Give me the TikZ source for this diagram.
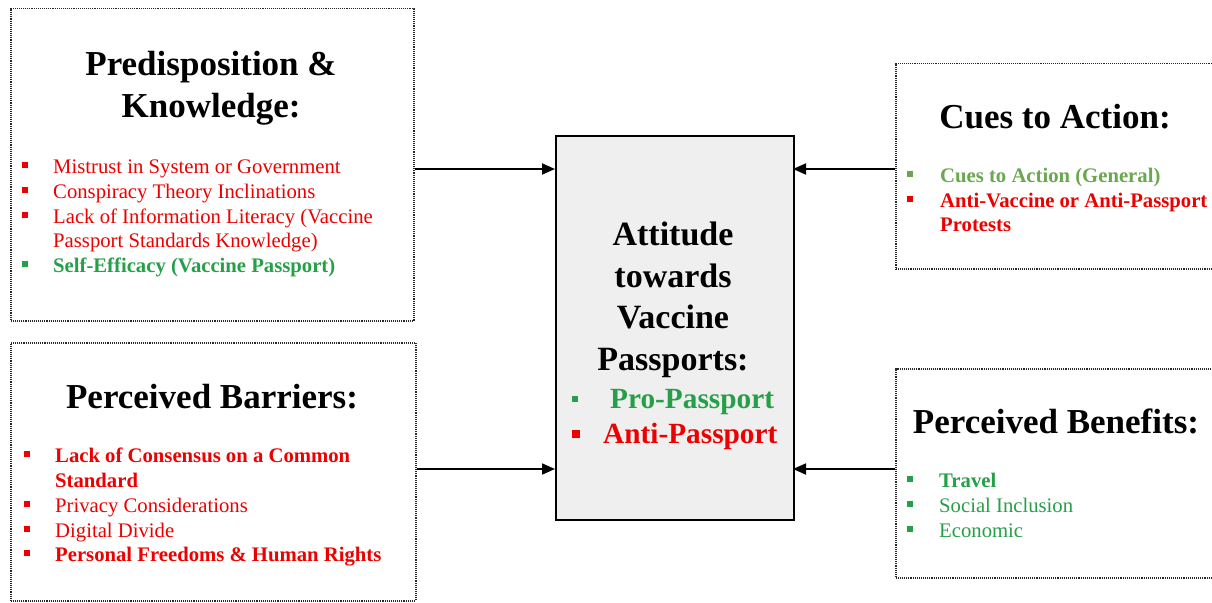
\documentclass[tikz,border=0pt]{standalone}
\usepackage{fontspec}
\setmainfont{Liberation Serif}
\usetikzlibrary{arrows.meta}
\definecolor{rd}{RGB}{236,0,0}
\definecolor{gn}{RGB}{38,160,72}
\definecolor{lgn}{RGB}{106,168,79}
\definecolor{bx}{RGB}{40,40,40}
\definecolor{cfill}{RGB}{239,239,239}
\newcommand{\bl}[2]{\llap{{\color{#1}\rule[5pt]{6pt}{6pt}}\hspace{#2}}}
\tikzset{
  dotbox/.style={draw=bx, line width=1.5pt, dash pattern=on 1.1pt off 1pt},
  centerbox/.style={draw=black, fill=cfill, line width=2pt},
  title/.style={inner sep=0pt, anchor=base, font=\fontsize{35}{40}\selectfont\bfseries},
  ctitle/.style={inner sep=0pt, anchor=base, font=\fontsize{34}{40}\selectfont\bfseries},
  item/.style={inner sep=0pt, anchor=base west, font=\fontsize{20.7}{25}\selectfont},
  bitem/.style={item, font=\fontsize{20.7}{25}\selectfont\bfseries},
  conn/.style={line width=1.8pt, -{Triangle[length=13pt,width=11pt]}}
}
\begin{document}
\begin{tikzpicture}[x=1pt,y=-1pt]
\clip (0,0) rectangle (1212,602);
\fill[white] (0,0) rectangle (1212,602);
% boxes
\node[dotbox, minimum width=403pt, minimum height=312pt, anchor=north west, inner sep=0pt] (tl) at (10,8) {};
\node[dotbox, minimum width=405pt, minimum height=258pt, anchor=north west, inner sep=0pt] (bl) at (10,342) {};
\node[centerbox, minimum width=238pt, minimum height=384pt, anchor=north west, inner sep=0pt] (c) at (555,135) {};
\node[dotbox, minimum width=340pt, minimum height=205pt, anchor=north west, inner sep=0pt] (tr) at (895,63) {};
\node[dotbox, minimum width=340pt, minimum height=209pt, anchor=north west, inner sep=0pt] (br) at (895,368) {};
% connectors
\coordinate (c1) at (555,169); \coordinate (c2) at (555,469);
\coordinate (c3) at (793,169); \coordinate (c4) at (793,469);
\draw[conn] (tl.east |- c1) -- (c1);
\draw[conn] (bl.east |- c2) -- (c2);
\draw[conn] (tr.west |- c3) -- (c3);
\draw[conn] (br.west |- c4) -- (c4);
% top-left
\node[title] (tlt1) at (211,75) {Predisposition \&};
\node[title] (tlt2) at (211,117) {Knowledge:};
\node[item, text=rd] (tli1) at (53,173) {\bl{rd}{25pt}Mistrust in System or Government};
\node[item, text=rd] (tli2) at (53,198) {\bl{rd}{25pt}Conspiracy Theory Inclinations};
\node[item, text=rd] (tli3) at (53,223) {\bl{rd}{25pt}Lack of Information Literacy (Vaccine};
\node[item, text=rd] (tli3b) at (53,247.5) {Passport Standards Knowledge)};
\node[bitem, text=gn] (tli4) at (53,272) {\bl{gn}{25pt}Self-Efficacy (Vaccine Passport)};
% bottom-left
\node[title] (blt) at (212,408) {Perceived Barriers:};
\node[bitem, text=rd] (bli1) at (55,462) {\bl{rd}{25pt}Lack of Consensus on a Common};
\node[bitem, text=rd] (bli1b) at (55,487) {Standard};
\node[item, text=rd] (bli2) at (55,512) {\bl{rd}{25pt}Privacy Considerations};
\node[item, text=rd] (bli3) at (55,537) {\bl{rd}{25pt}Digital Divide};
\node[bitem, text=rd] (bli4) at (55,561) {\bl{rd}{25pt}Personal Freedoms \& Human Rights};
% center
\node[ctitle] (ct1) at (673,245) {Attitude};
\node[ctitle] (ct2) at (673,287) {towards};
\node[ctitle] (ct3) at (673,328) {Vaccine};
\node[ctitle] (ct4) at (673,370) {Passports:};
\node[inner sep=0pt, anchor=base west, text=gn, font=\fontsize{29.3}{34}\selectfont\bfseries] (cp) at (610,408) {\llap{{\color{gn}\rule[6pt]{6pt}{6pt}}\hspace{32pt}}Pro-Passport};
\node[inner sep=0pt, anchor=base west, text=rd, font=\fontsize{29.3}{34}\selectfont\bfseries] (ca) at (603,443) {\llap{{\color{rd}\rule[5pt]{8pt}{8pt}}\hspace{23pt}}Anti-Passport};
% top-right
\node[title] (trt) at (1055,128) {Cues to Action:};
\node[bitem, text=lgn] (tri1) at (940,182) {\bl{lgn}{27pt}Cues to Action (General)};
\node[bitem, text=rd] (tri2) at (940,207) {\bl{rd}{27pt}Anti-Vaccine or Anti-Passport};
\node[bitem, text=rd] (tri2b) at (940,231) {Protests};
% bottom-right
\node[title] (brt) at (1056,433) {Perceived Benefits:};
\node[bitem, text=gn] (bri1) at (939,487) {\bl{gn}{26pt}Travel};
\node[item, text=gn] (bri2) at (939,512) {\bl{gn}{26pt}Social Inclusion};
\node[item, text=gn] (bri3) at (939,537) {\bl{gn}{26pt}Economic};
\end{tikzpicture}
\end{document}
